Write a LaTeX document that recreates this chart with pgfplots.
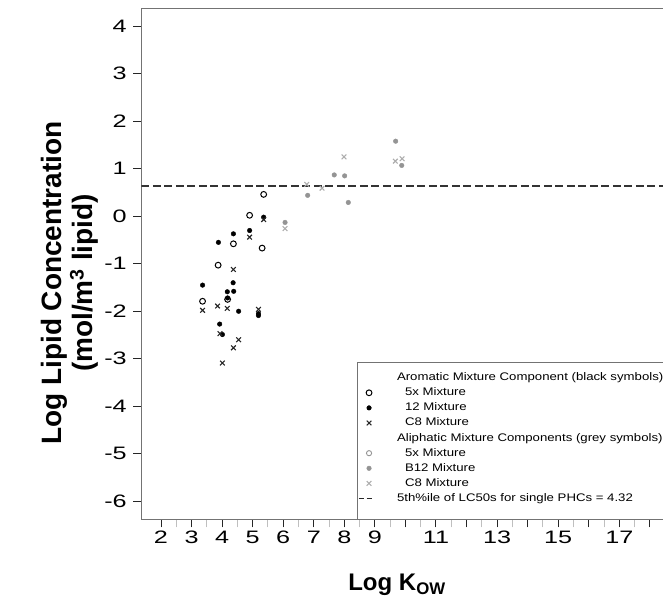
\documentclass[border=0pt]{standalone}
\usepackage{fontspec}
\setmainfont{Liberation Sans}
\newfontfamily\tickfont{Liberation Sans}[FakeStretch=1.4]
\newfontfamily\legfont{Liberation Sans}[FakeStretch=1.2]
\usepackage{pgfplots}
\pgfplotsset{compat=1.18}
\definecolor{greyA}{gray}{0.58}
\definecolor{greyB}{gray}{0.68}
\pgfplotsset{
  markleg/.style={legend image code/.code={\path[draw=none,fill=none] (0pt,-4pt) rectangle (39pt,4pt); \draw[##1] plot coordinates {(11pt,0pt)};}},
  lineleg/.style={legend image code/.code={\path[draw=none,fill=none] (0pt,-4pt) rectangle (39pt,4pt); \draw[black!85, line width=1.3pt] (0.5pt,0pt) -- (6pt,0pt) (8.5pt,0pt) -- (14pt,0pt);}},
}
\begin{document}
\begin{tikzpicture}
\path[use as bounding box] (-141.3pt,-86.7pt) rectangle (521.7pt,519.3pt);
\begin{axis}[
  at={(0pt,0pt)}, anchor=south west,
  scale only axis, width=539.1pt, height=511.1pt,
  xmin=1.355, xmax=19, ymin=-6.38, ymax=4.38,
  axis line style={black!55, line width=0.9pt},
  tick align=outside, xtick pos=left, ytick pos=left,
  major tick length=8pt, minor tick length=8pt,
  xtick={2,...,18}, xticklabels={2,3,4,5,6,7,8,9,,11,,13,,15,,17,},
  minor x tick num=1,
  ytick={-6,...,4}, yticklabels={-6,-5,-4,-3,-2,-1,0,1,2,3,4},
  major tick style={black!85, line width=1pt},
  minor tick style={black!25, line width=1pt},
  tick label style={font=\tickfont\fontsize{18}{18}\selectfont},
  yticklabel style={xshift=-3pt},
  xlabel={Log K\textsubscript{OW}},
  ylabel={Log Lipid Concentration\\(mol/m\textsuperscript{3} lipid)},
  every axis x label/.style={at={(axis description cs:0.4743,-0.1285)}, anchor=center, font=\bfseries\fontsize{24}{24}\selectfont},
  every axis y label/.style={at={(axis description cs:-0.1323,0.4623)}, anchor=center, rotate=90, align=center, font=\bfseries\fontsize{28}{31}\selectfont},
  legend style={at={(axis description cs:0.4014,0.3078)}, anchor=north west, draw=none, fill=none, inner xsep=0pt, inner ysep=10pt, font=\legfont\fontsize{11}{13}\selectfont, nodes={inner sep=0pt, text height=8.5pt, text depth=2.5pt}, row sep=4.1pt},
  legend cell align=left,
]
\draw[black!55, line width=0.8pt] (rel axis cs:0.4014,0) |- (rel axis cs:1,0.3078);

\addlegendimage{empty legend}
\addlegendentry{Aromatic Mixture Component (black symbols)}

% Aromatic 5x (open black circles)
\addplot[only marks, mark=o, mark size=2.9pt, black, line width=1pt, markleg] coordinates {
(3.36,-1.79) (3.87,-1.03) (4.18,-1.75) (4.37,-0.58) (5.31,-0.67) (4.90,0.02) (5.36,0.46)
};
\addlegendentry{\hspace*{8pt}5x Mixture}

% Aromatic 12 (filled black)
\addplot[only marks, mark=*, mark size=2.3pt, black, markleg] coordinates {
(3.36,-1.45) (3.88,-0.55) (3.92,-2.27) (4.01,-2.49) (4.17,-1.59) (4.18,-1.72)
(4.36,-1.40) (4.38,-1.58) (4.37,-0.37) (4.54,-2.00) (4.90,-0.30) (5.19,-2.05)
(5.19,-2.09) (5.36,-0.02)
};
\addlegendentry{\hspace*{8pt}12 Mixture}

% Aromatic C8 (black x)
\addplot[only marks, mark=x, mark size=3.3pt, black!85, line width=1.1pt, markleg] coordinates {
(3.36,-1.98) (3.85,-1.89) (3.93,-2.47) (4.01,-3.09) (4.17,-1.94) (4.37,-1.12)
(4.37,-2.77) (4.54,-2.60) (4.90,-0.44) (5.19,-1.96) (5.36,-0.07)
};
\addlegendentry{\hspace*{8pt}C8 Mixture}

\addlegendimage{empty legend}
\addlegendentry{Aliphatic Mixture Components (grey symbols)}

\addlegendimage{only marks, mark=o, mark size=2.6pt, greyA, line width=0.9pt, markleg}
\addlegendentry{\hspace*{8pt}5x Mixture}

% Aliphatic B12 (grey filled)
\addplot[only marks, mark=*, mark size=2.3pt, greyA, markleg] coordinates {
(6.06,-0.13) (6.80,0.44) (7.67,0.87) (8.01,0.85) (8.13,0.29) (9.68,1.58) (9.88,1.07)
};
\addlegendentry{\hspace*{8pt}B12 Mixture}

% Aliphatic C8 (grey x)
\addplot[only marks, mark=x, mark size=3.3pt, greyB, line width=1.1pt, markleg] coordinates {
(6.06,-0.26) (6.77,0.67) (7.27,0.59) (7.99,1.25) (9.67,1.16) (9.89,1.21)
};
\addlegendentry{\hspace*{8pt}C8 Mixture}

% threshold line
\addplot[black!80, line width=1.2pt, dash pattern=on 8pt off 3.5pt, lineleg] coordinates {(1.355,0.635) (19,0.635)};
\addlegendentry{5th\%ile of LC50s for single PHCs = 4.32}
\end{axis}
\end{tikzpicture}
\end{document}
